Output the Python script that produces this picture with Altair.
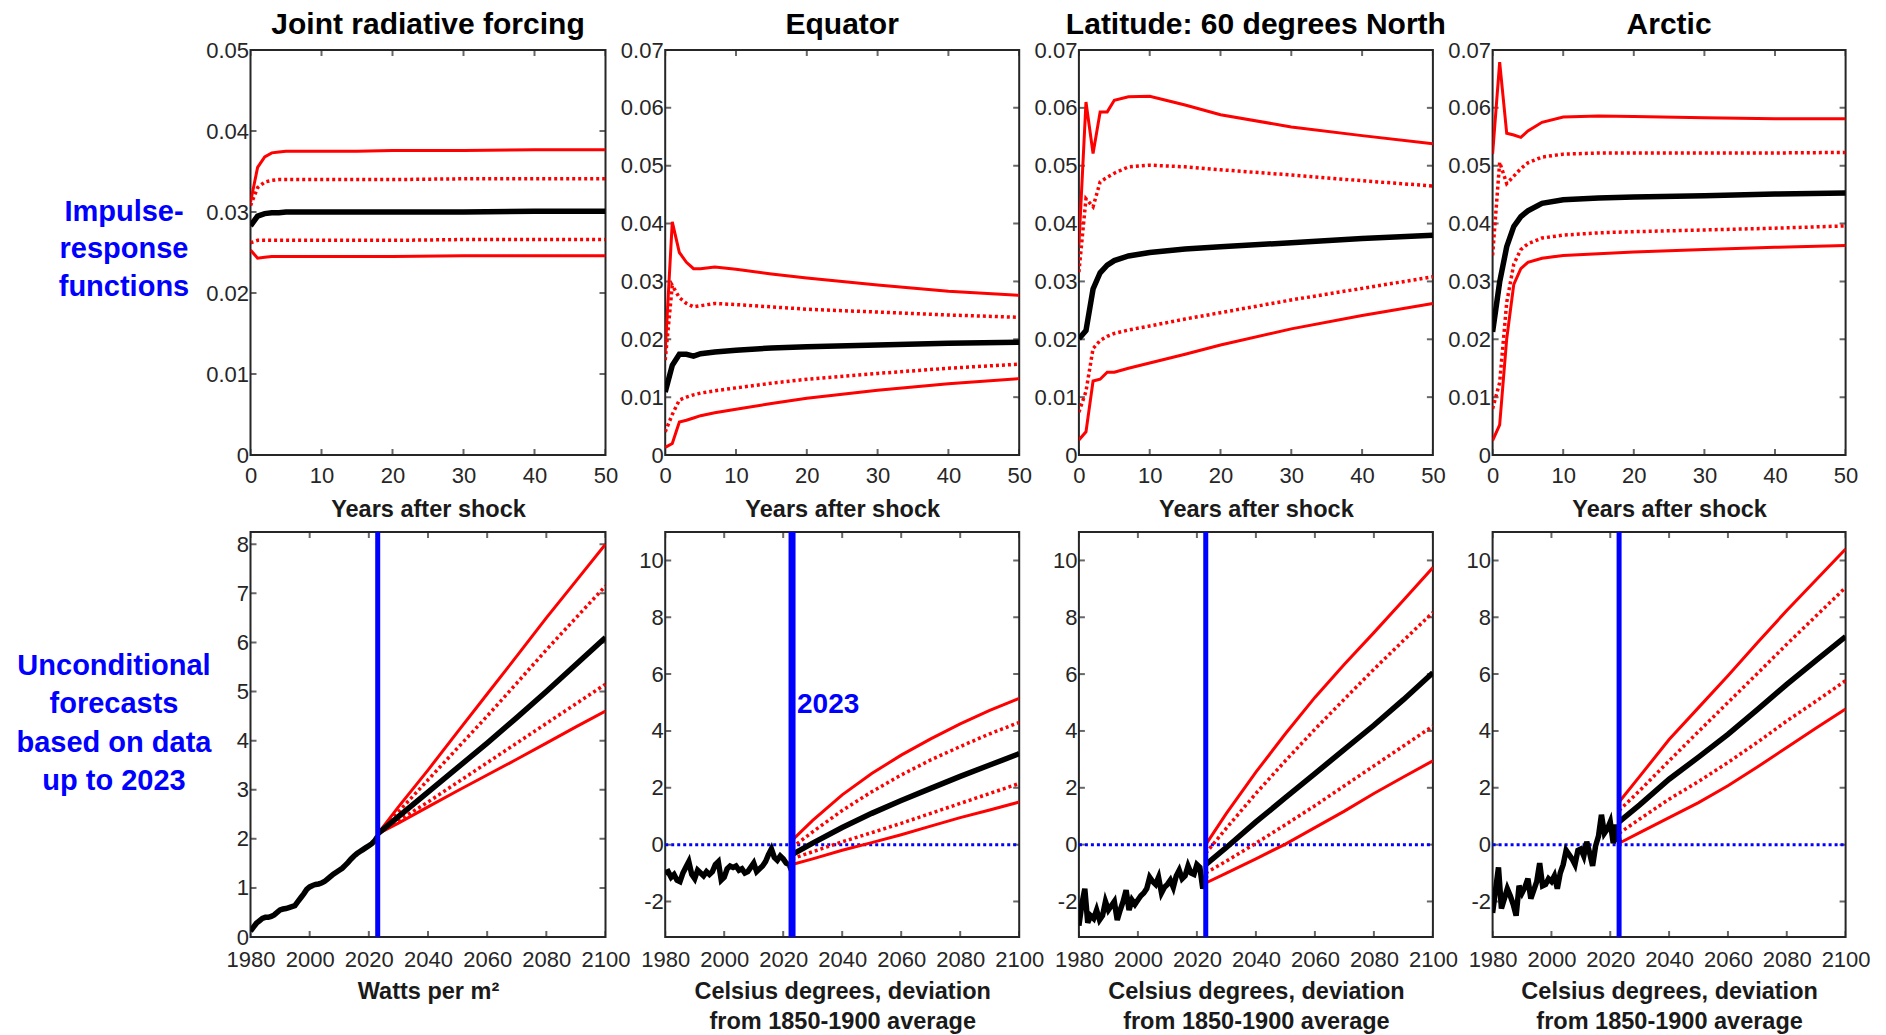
import altair as alt
import pandas as pd

FONT = "Liberation Sans"
RED = "#ff0000"
BLUE = "#0000ff"
FRAME = "#262626"

# ---------------- top row: impulse-response functions ----------------
irf_titles = ["Joint radiative forcing", "Equator", "Latitude: 60 degrees North", "Arctic"]
irf_horizon = [0, 1, 2, 3, 4, 5, 7, 10, 15, 20, 30, 40, 50]
irf_ymax = [0.05, 0.07, 0.07, 0.07]
irf_yticks = [[0, 0.01, 0.02, 0.03, 0.04, 0.05],
              [0, 0.01, 0.02, 0.03, 0.04, 0.05, 0.06, 0.07],
              [0, 0.01, 0.02, 0.03, 0.04, 0.05, 0.06, 0.07],
              [0, 0.01, 0.02, 0.03, 0.04, 0.05, 0.06, 0.07]]
irf_xticks = [0, 10, 20, 30, 40, 50]

irf_upper = [
    [0.0312, 0.0355, 0.0368, 0.0373, 0.0374, 0.0375, 0.0375, 0.0375, 0.0375, 0.0376, 0.0376, 0.0377, 0.0377],
    [0.0178, 0.0403, 0.0350, 0.0333, 0.0322, 0.0322, 0.0325, 0.0321, 0.0313, 0.0306, 0.0294, 0.0283, 0.0276],
    [0.0363, 0.0610, 0.0521, 0.0593, 0.0593, 0.0613, 0.0619, 0.0620, 0.0605, 0.0588, 0.0567, 0.0552, 0.0538],
    [0.0520, 0.0679, 0.0556, 0.0553, 0.0549, 0.0560, 0.0575, 0.0584, 0.0586, 0.0585, 0.0583, 0.0581, 0.0581],
]
irf_upper_dot = [
    [0.0308, 0.0330, 0.0337, 0.0339, 0.0340, 0.0340, 0.0340, 0.0340, 0.0340, 0.0340, 0.0341, 0.0341, 0.0341],
    [0.0164, 0.0293, 0.0272, 0.0262, 0.0256, 0.0258, 0.0262, 0.0260, 0.0256, 0.0252, 0.0247, 0.0242, 0.0238],
    [0.0316, 0.0443, 0.0429, 0.0472, 0.0480, 0.0487, 0.0498, 0.0501, 0.0498, 0.0493, 0.0484, 0.0474, 0.0465],
    [0.0345, 0.0506, 0.0469, 0.0482, 0.0495, 0.0505, 0.0515, 0.0520, 0.0522, 0.0522, 0.0522, 0.0522, 0.0523],
]
irf_median = [
    [0.0283, 0.0295, 0.0298, 0.0299, 0.0299, 0.0300, 0.0300, 0.0300, 0.0300, 0.0300, 0.0300, 0.0301, 0.0301],
    [0.0109, 0.0155, 0.0174, 0.0174, 0.0171, 0.0175, 0.0178, 0.0181, 0.0185, 0.0187, 0.0190, 0.0193, 0.0195],
    [0.0201, 0.0215, 0.0287, 0.0315, 0.0328, 0.0336, 0.0344, 0.0350, 0.0356, 0.0360, 0.0367, 0.0374, 0.0380],
    [0.0213, 0.0299, 0.0360, 0.0395, 0.0412, 0.0422, 0.0435, 0.0441, 0.0444, 0.0446, 0.0448, 0.0451, 0.0453],
]
irf_lower_dot = [
    [0.0262, 0.0265, 0.0265, 0.0265, 0.0265, 0.0265, 0.0265, 0.0265, 0.0265, 0.0265, 0.0266, 0.0266, 0.0266],
    [0.0040, 0.0070, 0.0095, 0.0100, 0.0104, 0.0107, 0.0111, 0.0116, 0.0124, 0.0131, 0.0141, 0.0150, 0.0157],
    [0.0074, 0.0110, 0.0184, 0.0198, 0.0205, 0.0210, 0.0216, 0.0223, 0.0235, 0.0246, 0.0268, 0.0288, 0.0308],
    [0.0080, 0.0125, 0.0264, 0.0330, 0.0355, 0.0365, 0.0375, 0.0380, 0.0384, 0.0386, 0.0389, 0.0392, 0.0396],
]
irf_lower = [
    [0.0253, 0.0243, 0.0244, 0.0245, 0.0245, 0.0245, 0.0245, 0.0245, 0.0245, 0.0245, 0.0246, 0.0246, 0.0246],
    [0.0013, 0.0020, 0.0057, 0.0060, 0.0064, 0.0068, 0.0073, 0.0079, 0.0089, 0.0098, 0.0112, 0.0123, 0.0132],
    [0.0026, 0.0040, 0.0128, 0.0131, 0.0143, 0.0143, 0.0150, 0.0159, 0.0174, 0.0190, 0.0218, 0.0241, 0.0262],
    [0.0025, 0.0052, 0.0201, 0.0295, 0.0322, 0.0333, 0.0340, 0.0345, 0.0348, 0.0351, 0.0355, 0.0359, 0.0362],
]

# ---------------- bottom row: unconditional forecasts ----------------
fc_xtitles = ["Watts per m²",
              ["Celsius degrees, deviation", "from 1850-1900 average"],
              ["Celsius degrees, deviation", "from 1850-1900 average"],
              ["Celsius degrees, deviation", "from 1850-1900 average"]]
fc_ydomain = [[0, 8.25], [-3.25, 11], [-3.25, 11], [-3.25, 11]]
fc_yticks = [[0, 1, 2, 3, 4, 5, 6, 7, 8],
             [-2, 0, 2, 4, 6, 8, 10],
             [-2, 0, 2, 4, 6, 8, 10],
             [-2, 0, 2, 4, 6, 8, 10]]
fc_xticks = [1980, 2000, 2020, 2040, 2060, 2080, 2100]
fc_zero_line = [False, True, True, True]
fc_vline_year = 2023
fc_vline_width = [5, 7, 5, 5]
fc_label = ["", "2023", "", ""]
fc_label_y = 4.9

hist_years = list(range(1980, 2024))
hist_values = [
    [0.12, 0.20, 0.28, 0.33, 0.38, 0.40, 0.40, 0.42, 0.45, 0.50,
     0.55, 0.57, 0.58, 0.60, 0.62, 0.64, 0.72, 0.80, 0.88, 0.97,
     1.02, 1.05, 1.07, 1.08, 1.10, 1.13, 1.18, 1.23, 1.28, 1.32,
     1.36, 1.40, 1.46, 1.52, 1.59, 1.65, 1.70, 1.74, 1.78, 1.82,
     1.86, 1.90, 1.96, 2.05],
    [-1.0, -0.95, -1.15, -1.05, -1.25, -1.3, -1.0, -0.8, -0.6, -1.05,
     -1.2, -0.9, -1.0, -1.1, -0.95, -1.05, -0.95, -0.7, -0.6, -1.25,
     -1.15, -0.85, -0.75, -0.8, -0.75, -0.9, -0.85, -1.0, -0.95, -0.8,
     -0.65, -0.95, -0.85, -0.75, -0.6, -0.35, -0.15, -0.45, -0.55, -0.4,
     -0.5, -0.65, -0.7, -0.95],
    [-2.85, -2.1, -1.55, -2.75, -2.5, -2.6, -2.3, -2.65, -2.5, -2.0,
     -2.3, -2.15, -2.0, -2.65, -2.3, -2.0, -1.6, -2.3, -1.95, -2.1,
     -1.95, -1.8, -1.7, -1.55, -1.15, -1.3, -1.4, -1.15, -1.7, -1.5,
     -1.4, -1.25, -1.5, -1.1, -0.9, -1.2, -1.1, -0.75, -1.0, -1.05,
     -0.7, -0.8, -1.55, -1.1],
    [-2.4, -1.6, -0.8, -2.25, -1.9, -1.55, -1.8, -2.1, -2.5, -1.45,
     -1.7, -1.5, -1.2, -1.9, -1.6, -1.3, -0.65, -1.45, -1.4, -1.2,
     -1.3, -1.1, -1.55, -1.0, -0.7, -0.2, -0.35, -0.5, -0.7, -0.2,
     -0.15, -0.4, 0.1, -0.3, -0.75, -0.05, 0.3, 1.05, 0.4, 0.55,
     0.8, 0.05, 0.7, 0.1],
]

fc_years = [2023, 2030, 2040, 2050, 2060, 2070, 2080, 2090, 2100]
fc_upper = [
    [2.1, 2.65, 3.4, 4.18, 4.95, 5.72, 6.5, 7.25, 8.0],
    [0.15, 0.85, 1.75, 2.5, 3.15, 3.72, 4.25, 4.72, 5.15],
    [0.0, 1.1, 2.55, 3.9, 5.18, 6.35, 7.46, 8.6, 9.75],
    [1.5, 2.4, 3.7, 4.82, 5.94, 7.1, 8.24, 9.32, 10.4],
]
fc_upper_dot = [
    [2.1, 2.55, 3.2, 3.85, 4.5, 5.17, 5.85, 6.5, 7.15],
    [-0.1, 0.45, 1.2, 1.86, 2.45, 2.98, 3.45, 3.9, 4.3],
    [-0.3, 0.58, 1.8, 2.95, 4.06, 5.12, 6.17, 7.18, 8.17],
    [1.2, 1.9, 2.95, 3.98, 5.0, 6.02, 7.05, 8.05, 9.05],
]
fc_median = [
    [2.1, 2.45, 2.95, 3.45, 3.95, 4.47, 5.0, 5.55, 6.1],
    [-0.35, 0.05, 0.6, 1.1, 1.55, 1.98, 2.4, 2.8, 3.2],
    [-0.7, -0.1, 0.8, 1.65, 2.5, 3.35, 4.2, 5.1, 6.05],
    [0.8, 1.4, 2.3, 3.08, 3.88, 4.75, 5.64, 6.48, 7.32],
]
fc_lower_dot = [
    [2.1, 2.37, 2.75, 3.15, 3.55, 3.95, 4.35, 4.75, 5.15],
    [-0.5, -0.25, 0.1, 0.42, 0.75, 1.1, 1.45, 1.8, 2.15],
    [-1.0, -0.58, 0.05, 0.7, 1.37, 2.07, 2.77, 3.47, 4.17],
    [0.4, 0.9, 1.6, 2.22, 2.89, 3.6, 4.35, 5.05, 5.77],
]
fc_lower = [
    [2.1, 2.32, 2.65, 2.98, 3.3, 3.62, 3.95, 4.28, 4.6],
    [-0.7, -0.5, -0.2, 0.07, 0.35, 0.65, 0.95, 1.22, 1.5],
    [-1.35, -1.0, -0.5, 0.02, 0.6, 1.18, 1.8, 2.38, 2.95],
    [0.05, 0.42, 0.95, 1.48, 2.07, 2.73, 3.42, 4.1, 4.77],
]

row_labels = [["Impulse-", "response", "functions"],
              ["Unconditional", "forecasts", "based on data", "up to 2023"]]

PANEL_W = [355, 354, 354, 353]
PANEL_H = 405


def inward_ticks(xs, ys, xdom, ydom, x_enc, y_enc):
    tx = pd.DataFrame([{"x": v, "y": yv} for v in xs for yv in ydom])
    ty = pd.DataFrame([{"x": xv, "y": v} for v in ys for xv in xdom])
    a = alt.Chart(tx).mark_tick(orient="vertical", size=12, thickness=2,
                                color=FRAME, clip=True).encode(x=x_enc, y=y_enc)
    b = alt.Chart(ty).mark_tick(orient="horizontal", size=12, thickness=2,
                                color=FRAME, clip=True).encode(x=x_enc, y=y_enc)
    return [a, b]


def band_layers(df, x_enc, y_enc):
    solid = alt.Chart(df).transform_filter(
        alt.FieldOneOfPredicate(field="band", oneOf=["upper", "lower"])
    ).mark_line(color=RED, strokeWidth=3, clip=True).encode(x=x_enc, y=y_enc, detail="band:N")
    dotted = alt.Chart(df).transform_filter(
        alt.FieldOneOfPredicate(field="band", oneOf=["upper_dot", "lower_dot"])
    ).mark_line(color=RED, strokeWidth=3.5, strokeDash=[3, 3], clip=True).encode(
        x=x_enc, y=y_enc, detail="band:N")
    med = alt.Chart(df).transform_filter(
        alt.FieldOneOfPredicate(field="band", oneOf=["median", "history"])
    ).mark_line(color="black", strokeWidth=5.5, clip=True).encode(x=x_enc, y=y_enc, detail="band:N")
    return [solid, dotted, med]


panels = []

# top row
for i in range(4):
    rows = []
    for band, src in [("upper", irf_upper), ("upper_dot", irf_upper_dot), ("median", irf_median),
                      ("lower_dot", irf_lower_dot), ("lower", irf_lower)]:
        for h, v in zip(irf_horizon, src[i]):
            rows.append({"x": h, "y": v, "band": band})
    df = pd.DataFrame(rows)
    xdom = [0, 50]
    ydom = [0, irf_ymax[i]]
    x_enc = alt.X("x:Q", scale=alt.Scale(domain=xdom, nice=False, zero=False),
                  axis=alt.Axis(values=irf_xticks, labelFlush=False, title="Years after shock",
                                labelPadding=10, titlePadding=11.5))
    if i == 0:
        yaxis = alt.Axis(values=irf_yticks[i], format=".2~f", labelFlush=False,
                         title=row_labels[0], titleAngle=0, titleAlign="center",
                         titleBaseline="alphabetic", titleX=-127, titleY=170,
                         titleColor=BLUE, titleFontSize=29, titleLineHeight=37.5)
    else:
        yaxis = alt.Axis(values=irf_yticks[i], format=".2~f", labelFlush=False, title=None)
    y_enc = alt.Y("y:Q", scale=alt.Scale(domain=ydom, nice=False, zero=False), axis=yaxis)
    layers = inward_ticks(irf_xticks, irf_yticks[i], xdom, ydom, x_enc, y_enc)
    layers += band_layers(df, x_enc, y_enc)
    panels.append(alt.layer(*layers).properties(width=PANEL_W[i], height=PANEL_H,
                                                title=irf_titles[i]))

# bottom row
for i in range(4):
    rows = []
    for yr, v in zip(hist_years, hist_values[i]):
        rows.append({"x": yr, "y": v, "band": "history"})
    for band, src in [("upper", fc_upper), ("upper_dot", fc_upper_dot), ("median", fc_median),
                      ("lower_dot", fc_lower_dot), ("lower", fc_lower)]:
        for yr, v in zip(fc_years, src[i]):
            rows.append({"x": yr, "y": v, "band": band})
    df = pd.DataFrame(rows)
    xdom = [1980, 2100]
    ydom = fc_ydomain[i]
    x_enc = alt.X("x:Q", scale=alt.Scale(domain=xdom, nice=False, zero=False),
                  axis=alt.Axis(values=fc_xticks, format="d", labelFlush=False,
                                title=fc_xtitles[i], labelPadding=12.5, titlePadding=9,
                                titleLineHeight=30))
    lab = "datum.value < 0 ? '-' + abs(datum.value) : '' + datum.value"
    if i == 0:
        yaxis = alt.Axis(values=fc_yticks[i], labelExpr=lab, labelFlush=False,
                         title=row_labels[1], titleAngle=0, titleAlign="center",
                         titleBaseline="alphabetic", titleX=-137, titleY=142,
                         titleColor=BLUE, titleFontSize=29, titleLineHeight=38.5)
    else:
        yaxis = alt.Axis(values=fc_yticks[i], labelExpr=lab, labelFlush=False, title=None)
    y_enc = alt.Y("y:Q", scale=alt.Scale(domain=ydom, nice=False, zero=False), axis=yaxis)

    layers = inward_ticks(fc_xticks, fc_yticks[i], xdom, ydom, x_enc, y_enc)
    if fc_zero_line[i]:
        zdf = pd.DataFrame({"x": xdom, "y": [0, 0]})
        layers.append(alt.Chart(zdf).mark_line(color=BLUE, strokeWidth=3, strokeDash=[3, 3],
                                               clip=True).encode(x=x_enc, y=y_enc))
    layers += band_layers(df, x_enc, y_enc)
    vdf = pd.DataFrame({"x": [fc_vline_year]})
    layers.append(alt.Chart(vdf).mark_rule(color=BLUE, strokeWidth=fc_vline_width[i]).encode(x=x_enc))
    if fc_label[i]:
        tdf = pd.DataFrame({"x": [fc_vline_year], "y": [fc_label_y], "t": [fc_label[i]]})
        layers.append(alt.Chart(tdf).mark_text(align="left", baseline="middle", dx=5, font=FONT,
                                               fontSize=28, fontWeight="bold", color=BLUE).encode(
            x=x_enc, y=y_enc, text="t:N"))
    panels.append(alt.layer(*layers).properties(width=PANEL_W[i], height=PANEL_H))

chart = alt.concat(*panels, columns=4, spacing={"row": 77, "column": 59.7}, bounds="flush").properties(
    padding={"left": 6.5, "top": 1, "right": 5, "bottom": 5},
    background="white",
).configure_view(
    stroke=FRAME, strokeWidth=2
).configure_axis(
    grid=False, domain=False, ticks=False,
    labelFont=FONT, labelFontSize=22, labelColor=FRAME,
    titleFont=FONT, titleFontSize=23.5, titleFontWeight="bold", titleColor="#1a1a1a",
).configure_title(
    font=FONT, fontSize=30, fontWeight="bold", color="black", anchor="middle",
    baseline="alphabetic", offset=-1,
)

chart.save("out.html", embed_options={"renderer": "svg", "actions": False})
